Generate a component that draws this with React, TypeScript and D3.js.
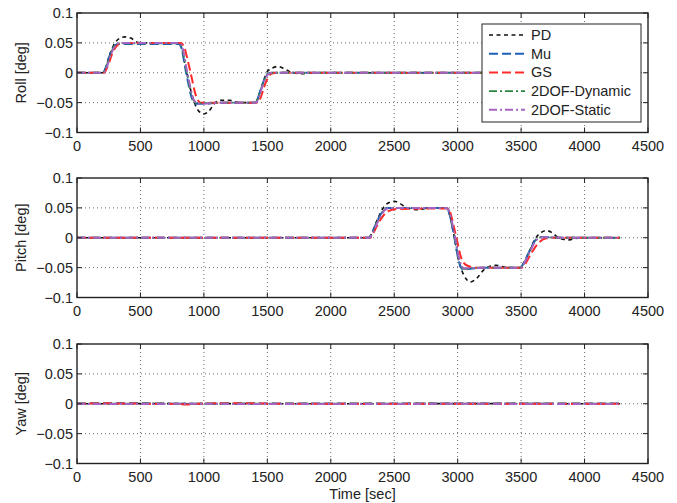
import React from "react";
import * as d3 from "d3";

type Pt = [number, number];

const seriesNames = ["PD", "Mu", "GS", "2DOF-Dynamic", "2DOF-Static"];
const panelLabels = ["Roll [deg]", "Pitch [deg]", "Yaw [deg]"];
const xTicks = [0, 500, 1000, 1500, 2000, 2500, 3000, 3500, 4000, 4500];
const yTicks = [-0.1, -0.05, 0, 0.05, 0.1];
const yTickLabels = ["\u22120.1", "\u22120.05", "0", "0.05", "0.1"];

// Roll
const rollPD: Pt[] = [[0,0],[200,0],[215,0.003],[260,0.032],[300,0.05],[340,0.058],[375,0.06],[425,0.058],[475,0.051],[520,0.05],[800,0.05],[815,0.047],[860,0.005],[910,-0.04],[955,-0.063],[1000,-0.069],[1040,-0.064],[1090,-0.05],[1140,-0.046],[1200,-0.046],[1255,-0.049],[1300,-0.05],[1400,-0.05],[1415,-0.047],[1460,-0.02],[1500,0.002],[1540,0.008],[1585,0.0105],[1640,0.006],[1700,0],[1770,-0.0015],[1840,0],[4280,0]];
const rollMu: Pt[] = [[0,0],[200,0],[215,0.003],[260,0.03],[300,0.046],[330,0.048],[800,0.048],[815,0.046],[860,0.0],[910,-0.045],[945,-0.052],[1010,-0.052],[1100,-0.05],[1400,-0.05],[1415,-0.047],[1460,-0.02],[1500,-0.002],[1540,0],[4280,0]];
const rollGS: Pt[] = [[0,0],[215,0],[240,0.01],[290,0.038],[330,0.048],[370,0.05],[820,0.05],[840,0.045],[890,0.005],[940,-0.04],[975,-0.05],[1420,-0.05],[1440,-0.045],[1490,-0.015],[1530,-0.002],[1570,0],[4280,0]];
const rollDyn: Pt[] = [[0,0],[205,0],[220,0.004],[265,0.032],[305,0.047],[340,0.049],[805,0.049],[820,0.046],[865,0.0],[915,-0.045],[948,-0.051],[1050,-0.051],[1150,-0.05],[1405,-0.05],[1420,-0.046],[1465,-0.018],[1505,-0.002],[1545,0],[4280,0]];
const rollStatic: Pt[] = [[0,0],[210,0],[225,0.004],[270,0.032],[310,0.047],[350,0.05],[810,0.05],[825,0.046],[870,0.0],[920,-0.045],[955,-0.052],[1060,-0.051],[1150,-0.05],[1410,-0.05],[1425,-0.046],[1470,-0.017],[1510,-0.002],[1550,0],[4280,0]];

// Pitch
const pitchPD: Pt[] = [[0,0],[2300,0],[2315,0.004],[2370,0.032],[2420,0.052],[2460,0.059],[2500,0.061],[2540,0.058],[2590,0.051],[2640,0.048],[2690,0.047],[2750,0.049],[2800,0.05],[2910,0.05],[2925,0.046],[2970,0.005],[3010,-0.04],[3050,-0.063],[3100,-0.074],[3150,-0.068],[3200,-0.055],[3250,-0.048],[3300,-0.046],[3350,-0.048],[3400,-0.05],[3495,-0.05],[3510,-0.046],[3560,-0.025],[3610,-0.002],[3660,0.009],[3700,0.012],[3740,0.009],[3790,0.001],[3840,-0.003],[3880,-0.0035],[3930,-0.001],[4000,0],[4280,0]];
const pitchMu: Pt[] = [[0,0],[2300,0],[2315,0.004],[2370,0.03],[2420,0.047],[2450,0.05],[2910,0.05],[2925,0.046],[2970,0.005],[3010,-0.04],[3040,-0.053],[3100,-0.052],[3200,-0.05],[3495,-0.05],[3510,-0.046],[3560,-0.025],[3610,-0.005],[3650,0.001],[3720,0.001],[3800,0],[4280,0]];
const pitchGS: Pt[] = [[0,0],[2310,0],[2330,0.006],[2390,0.03],[2450,0.044],[2520,0.048],[2920,0.049],[2935,0.045],[2985,0.005],[3030,-0.035],[3070,-0.046],[3150,-0.05],[3505,-0.05],[3525,-0.046],[3580,-0.026],[3640,-0.008],[3700,-0.001],[3760,0],[4280,0]];
const pitchDyn: Pt[] = [[0,0],[2303,0],[2318,0.004],[2375,0.03],[2425,0.047],[2460,0.05],[2912,0.05],[2928,0.046],[2973,0.005],[3015,-0.04],[3045,-0.052],[3110,-0.051],[3200,-0.05],[3498,-0.05],[3513,-0.046],[3565,-0.024],[3615,-0.004],[3660,0.001],[3740,0.0005],[3800,0],[4280,0]];
const pitchStatic: Pt[] = [[0,0],[2305,0],[2320,0.004],[2378,0.03],[2430,0.047],[2470,0.05],[2915,0.05],[2930,0.046],[2976,0.005],[3018,-0.04],[3050,-0.051],[3120,-0.051],[3200,-0.05],[3500,-0.05],[3515,-0.046],[3568,-0.024],[3620,-0.004],[3670,0.001],[3750,0.0005],[3810,0],[4280,0]];

// Yaw
const yawPD: Pt[] = [[0,0],[1000,0.0002],[2000,0],[3000,0.0002],[4280,0]];
const yawMu: Pt[] = [[0,0.0005],[300,0.0008],[600,0.0005],[900,-0.0003],[1200,0.0006],[1500,0.0004],[2000,0.0005],[2500,0.0004],[3000,0.0005],[3500,0.0004],[4280,0.0004]];
const yawGS: Pt[] = [[0,0],[250,0.0008],[320,0.0004],[700,0],[880,-0.0012],[960,0],[1100,0.0008],[1450,0.0006],[1520,0],[4280,0]];
const yawDyn: Pt[] = [[0,0.0003],[1000,0.0002],[2000,0.0003],[3000,0.0002],[4280,0.0003]];
const yawStatic: Pt[] = [[0,-0.0003],[1000,-0.0002],[2000,-0.0003],[3000,-0.0002],[4280,-0.0003]];

const panelData: Pt[][][] = [
  [rollPD, rollMu, rollGS, rollDyn, rollStatic],
  [pitchPD, pitchMu, pitchGS, pitchDyn, pitchStatic],
  [yawPD, yawMu, yawGS, yawDyn, yawStatic],
];

const styles = [
  { color: "#111111", dash: "4,3.5", width: 1.6 },
  { color: "#2160b8", dash: "9,4", width: 2 },
  { color: "#ff2a2a", dash: "9,4", width: 2 },
  { color: "#2e8540", dash: "8,3,2,3", width: 1.8 },
  { color: "#a564c4", dash: "8,3,2,3", width: 2 },
];

const W = 677;
const H = 503;
const left = 77;
const right = 648;
const panelTops = [13, 178, 344];
const panelH = 119.5;
const font = "'Liberation Sans', Arial, Helvetica, sans-serif";

export default function App() {
  const x = d3.scaleLinear().domain([0, 4500]).range([left, right]);
  return (
    <svg width={W} height={H} style={{ position: "absolute", left: 0, top: 0, background: "#fff" }} fontFamily={font}>
      <rect x={0} y={0} width={W} height={H} fill="#fff" />
      {panelTops.map((top, pi) => {
        const y = d3.scaleLinear().domain([-0.1, 0.1]).range([top + panelH, top]);
        const line = d3
          .line<Pt>()
          .x((d) => x(d[0]))
          .y((d) => y(d[1]))
          .curve(d3.curveMonotoneX);
        const clipId = `clip${pi}`;
        return (
          <g key={pi}>
            <defs>
              <clipPath id={clipId}>
                <rect x={left} y={top} width={right - left} height={panelH} />
              </clipPath>
            </defs>
            {/* grid */}
            {xTicks.slice(1, -1).map((t) => (
              <line key={"gx" + t} x1={x(t)} x2={x(t)} y1={top} y2={top + panelH} stroke="#444" strokeWidth={0.8} strokeDasharray="1,3" />
            ))}
            {yTicks.slice(1, -1).map((t) => (
              <line key={"gy" + t} x1={left} x2={right} y1={y(t)} y2={y(t)} stroke="#444" strokeWidth={0.8} strokeDasharray="1,3" />
            ))}
            {/* series */}
            <g clipPath={`url(#${clipId})`}>
              {panelData[pi].map((data, si) => (
                <path
                  key={si}
                  d={line(data) || ""}
                  fill="none"
                  stroke={styles[si].color}
                  strokeWidth={styles[si].width}
                  strokeDasharray={styles[si].dash}
                />
              ))}
            </g>
            {/* ticks */}
            {xTicks.map((t) => (
              <g key={"tx" + t}>
                <line x1={x(t)} x2={x(t)} y1={top + panelH} y2={top + panelH - 5} stroke="#222" strokeWidth={1} />
                <line x1={x(t)} x2={x(t)} y1={top} y2={top + 5} stroke="#222" strokeWidth={1} />
                <text x={x(t)} y={top + panelH + 18} fontSize={14.5} textAnchor="middle" fill="#222">
                  {t}
                </text>
              </g>
            ))}
            {yTicks.map((t, i) => (
              <g key={"ty" + t}>
                <line x1={left} x2={left + 5} y1={y(t)} y2={y(t)} stroke="#222" strokeWidth={1} />
                <line x1={right} x2={right - 5} y1={y(t)} y2={y(t)} stroke="#222" strokeWidth={1} />
                <text x={left - 4} y={y(t) + 5} fontSize={14.5} textAnchor="end" fill="#222">
                  {yTickLabels[i]}
                </text>
              </g>
            ))}
            <rect x={left} y={top} width={right - left} height={panelH} fill="none" stroke="#222" strokeWidth={1.4} />
            <text
              transform={`translate(${26},${top + panelH / 2}) rotate(-90)`}
              fontSize={14.5}
              textAnchor="middle"
              fill="#222"
            >
              {panelLabels[pi]}
            </text>
          </g>
        );
      })}
      <text x={(left + right) / 2} y={499} fontSize={14.5} textAnchor="middle" fill="#222">
        Time [sec]
      </text>
      {/* legend */}
      <g>
        <rect x={482} y={24} width={159} height={98} fill="#fff" stroke="#222" strokeWidth={1} />
        {seriesNames.map((n, i) => {
          const ly = 35 + i * 18.7;
          return (
            <g key={n}>
              <line x1={489} x2={525} y1={ly} y2={ly} stroke={styles[i].color} strokeWidth={styles[i].width} strokeDasharray={styles[i].dash} />
              <text x={531} y={ly + 5} fontSize={14.5} fill="#222">
                {n}
              </text>
            </g>
          );
        })}
      </g>
    </svg>
  );
}
